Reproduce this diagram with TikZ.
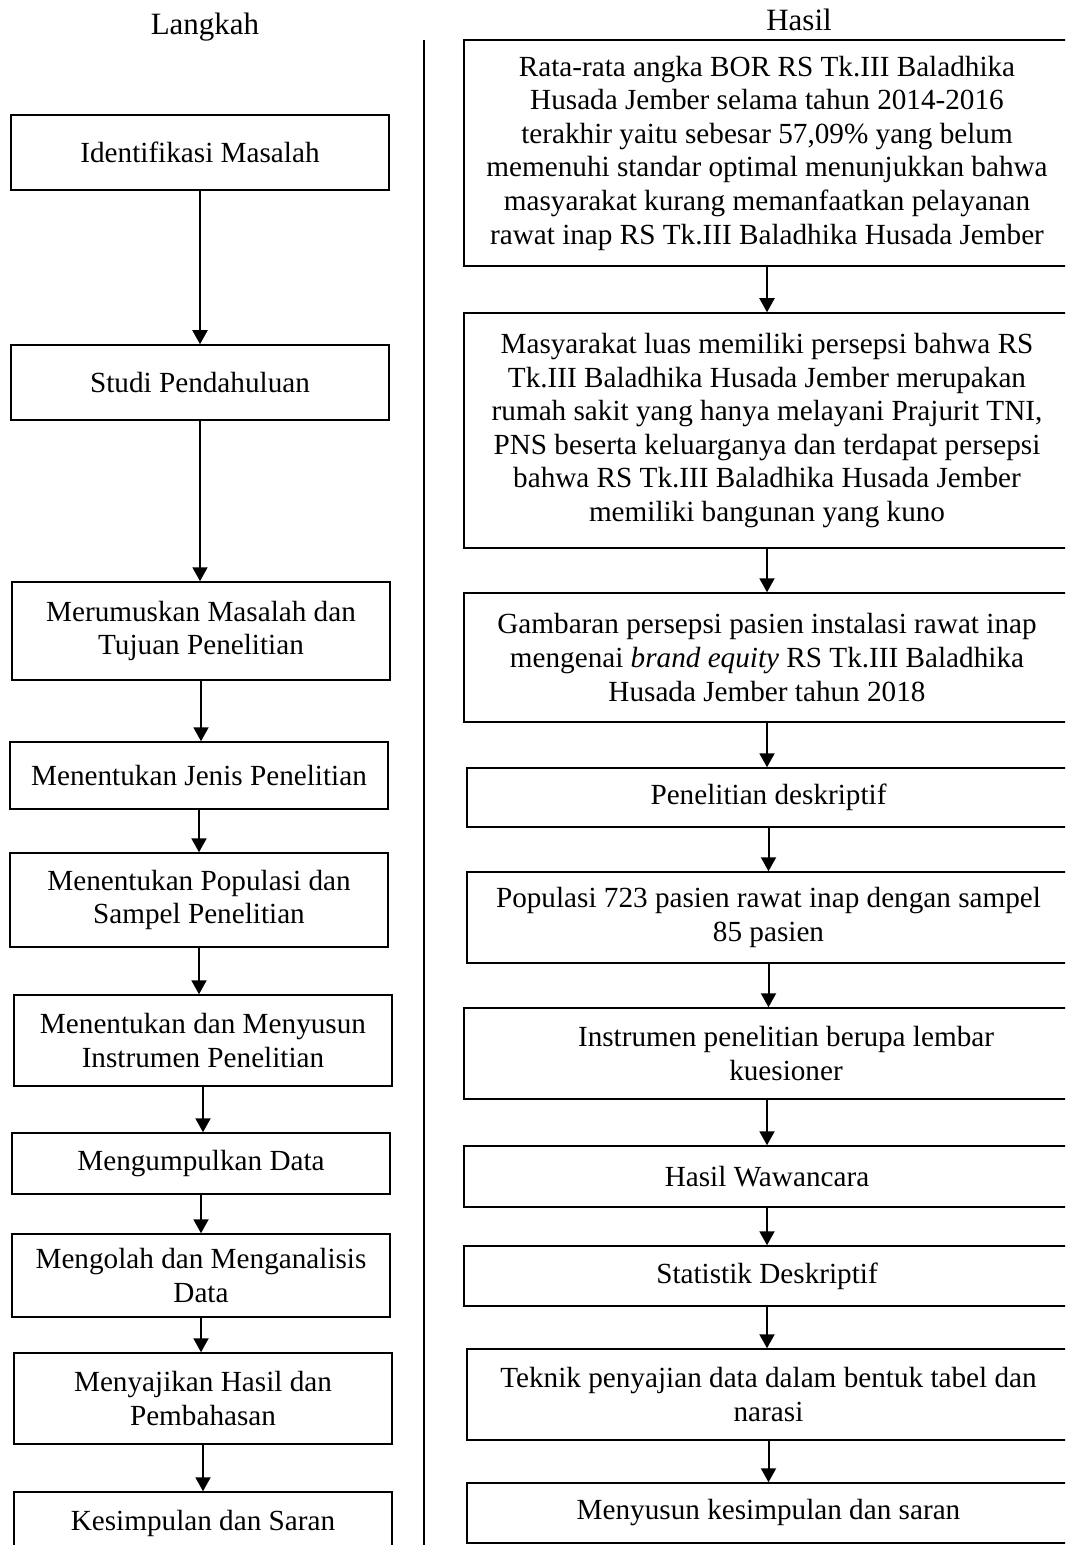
\documentclass[tikz,border=0pt]{standalone}
\usepackage{fontspec}
\setmainfont{Liberation Serif}
\usepackage{tikz}
\usetikzlibrary{arrows.meta,positioning,calc}

\begin{document}
\begin{tikzpicture} [x=0.5pt, y=-0.5pt, every node/.style = {align=center, font=\fontsize{14.6}{16.8}\selectfont},
        box/.style = {draw, rectangle, inner sep=0pt, line width=0.75pt},
        lbox/.style = {box, minimum width=189pt},
        rbox/.style = {box, minimum width=303pt},
        arr/.style = {-{Triangle[width=7.5pt,length=7pt]}, line width=1pt}]
        \clip (0,0) rectangle (1065,1545);
        \node[font=\fontsize{15.5}{17}\selectfont] (langkah) at (205,27) {Langkah};
        \node[font=\fontsize{15.5}{17}\selectfont] (hasil) at (799,20) {Hasil};
        \draw[line width=1pt] (424,40) -- (424,1545);

        \node[lbox, minimum height=37.5pt] (l1) at (200,152.5) {Identifikasi Masalah};
        \node[lbox, minimum height=37.5pt] (l2) at (200,382.5) {Studi Pendahuluan};
        \node[lbox, minimum height=49pt] (l3) at (201,631) {Merumuskan Masalah dan\\Tujuan Penelitian};
        \node[lbox, minimum height=33.5pt] (l4) at (199,775.5) {Menentukan Jenis Penelitian};
        \node[lbox, minimum height=47pt] (l5) at (199,900) {Menentukan Populasi dan\\Sampel Penelitian};
        \node[lbox, minimum height=45.5pt] (l6) at (203,1040.5) {Menentukan dan Menyusun\\Instrumen Penelitian};
        \node[lbox, minimum height=30.5pt] (l7) at (201,1163.5) {Mengumpulkan Data};
        \node[lbox, minimum height=41.5pt] (l8) at (201,1275.5) {Mengolah dan Menganalisis\\Data};
        \node[lbox, minimum height=45.5pt] (l9) at (203,1398.5) {Menyajikan Hasil dan\\Pembahasan};
        \node[lbox, minimum height=31pt] (l10) at (203,1523) {Kesimpulan dan Saran};

        \node[rbox, minimum height=113pt] (r1) at (767,153) {Rata-rata angka BOR RS Tk.III Baladhika\\Husada Jember selama tahun 2014-2016\\terakhir yaitu sebesar 57,09\%{} yang belum\\memenuhi standar optimal menunjukkan bahwa\\masyarakat kurang memanfaatkan pelayanan\\rawat inap RS Tk.III Baladhika Husada Jember};
        \node[rbox, minimum height=117.5pt] (r2) at (767,430.5) {Masyarakat luas memiliki persepsi bahwa RS\\Tk.III Baladhika Husada Jember merupakan\\rumah sakit yang hanya melayani Prajurit TNI,\\PNS beserta keluarganya dan terdapat persepsi\\bahwa RS Tk.III Baladhika Husada Jember\\memiliki bangunan yang kuno};
        \node[rbox, minimum height=64.5pt] (r3) at (767,657.5) {Gambaran persepsi pasien instalasi rawat inap\\mengenai \textit{brand equity} RS Tk.III Baladhika\\Husada Jember tahun 2018};
        \node[rbox, minimum width=301.5pt, minimum height=29.5pt] (r4) at (768.5,797.5) {Penelitian deskriptif};
        \node[rbox, minimum width=301.5pt, minimum height=45.5pt] (r5) at (768.5,917.5) {Populasi 723 pasien rawat inap dengan sampel\\85 pasien};
        \node[rbox, minimum height=45.5pt] (r6) at (767,1053.5) {};
        \node[xshift=9.5pt] (r6t) at (r6) {Instrumen penelitian berupa lembar\\kuesioner};
        \node[rbox, minimum height=30.5pt] (r7) at (767,1176.5) {Hasil Wawancara};
        \node[rbox, minimum height=30pt] (r8) at (767,1276) {Statistik Deskriptif};
        \node[rbox, minimum width=301.5pt, minimum height=45.5pt] (r9) at (768.5,1394.5) {Teknik penyajian data dalam bentuk tabel dan\\narasi};
        \node[rbox, minimum width=301.5pt, minimum height=30pt] (r10) at (768.5,1513) {Menyusun kesimpulan dan saran};

        \foreach \a/\b in {l1/l2, l2/l3, l3/l4, l4/l5, l5/l6, l6/l7, l7/l8, l8/l9, l9/l10,
                r1/r2, r2/r3, r3/r4, r4/r5, r5/r6, r6/r7, r7/r8, r8/r9, r9/r10}
            \draw[arr] (\a.south) -- (\a.south |- \b.north);
    \end{tikzpicture}
\end{document}
